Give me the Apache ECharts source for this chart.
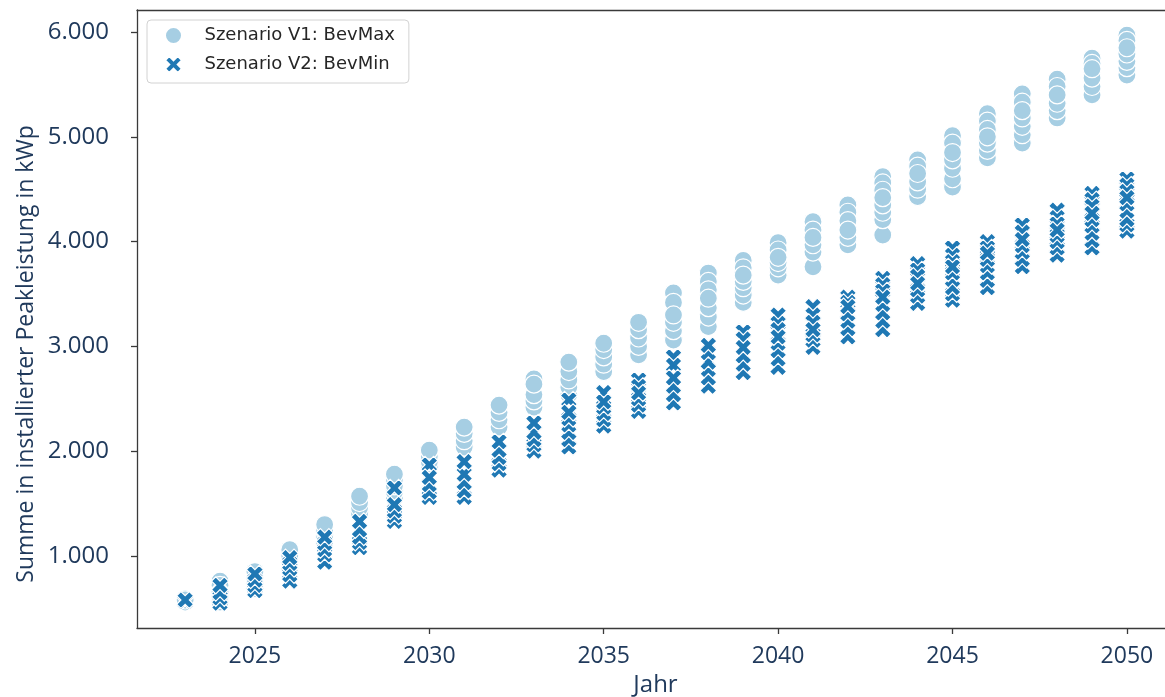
<!DOCTYPE html>
<html>
<head>
<meta charset="utf-8">
<script src="https://cdn.jsdelivr.net/npm/echarts@6/dist/echarts.min.js"></script>
<style>
  html, body { margin: 0; padding: 0; background: #ffffff; }
  #chart { width: 1165px; height: 697px; }
</style>
</head>
<body>
<div id="chart"></div>
<script>
// Installed peak power per simulated year, one small list of runs per year
const years = [2023, 2024, 2025, 2026, 2027, 2028, 2029, 2030, 2031, 2032, 2033, 2034, 2035, 2036,
               2037, 2038, 2039, 2040, 2041, 2042, 2043, 2044, 2045, 2046, 2047, 2048, 2049, 2050];

// Scenario V1 (BevMax), kWp
const bevMax = [
  [560, 590, 580],
  [760, 560, 610, 660, 720],
  [690, 740, 790, 850],
  [880, 940, 1000, 1060],
  [1120, 1180, 1240, 1300],
  [1400, 1460, 1510, 1570],
  [1550, 1610, 1670, 1730, 1780],
  [1850, 1900, 1950, 2010],
  [2040, 2100, 2170, 2230],
  [2230, 2300, 2370, 2440],
  [2690, 2420, 2480, 2540, 2640],
  [2540, 2610, 2680, 2760, 2850],
  [2760, 2830, 2900, 2970, 3030],
  [2920, 3000, 3080, 3160, 3230],
  [3510, 3420, 3060, 3150, 3230, 3300],
  [3700, 3620, 3540, 3190, 3280, 3370, 3460],
  [3820, 3750, 3420, 3490, 3560, 3620, 3680],
  [3990, 3920, 3680, 3750, 3800, 3850],
  [4190, 4110, 3760, 3900, 3970, 4040],
  [4350, 4280, 4200, 3970, 4040, 4110],
  [4620, 4560, 4490, 4063, 4210, 4280, 4350, 4420],
  [4780, 4720, 4430, 4500, 4570, 4650],
  [5010, 4940, 4520, 4600, 4700, 4780, 4850],
  [5220, 5150, 5070, 4800, 4870, 4940, 5000],
  [5410, 5330, 4940, 5020, 5100, 5180, 5250],
  [5550, 5480, 5180, 5250, 5320, 5400],
  [5750, 5700, 5400, 5480, 5560, 5650],
  [5970, 5920, 5590, 5660, 5720, 5790, 5850]
];

// Scenario V2 (BevMin), kWp
const bevMin = [
  [565, 580],
  [550, 600, 650, 720],
  [670, 720, 770, 830],
  [760, 820, 880, 930, 985],
  [940, 1010, 1060, 1120, 1180],
  [1080, 1130, 1180, 1250, 1330],
  [1650, 1330, 1380, 1430, 1490],
  [1870, 1560, 1610, 1680, 1750],
  [1560, 1620, 1700, 1780, 1900],
  [1820, 1880, 1940, 2010, 2090],
  [2000, 2060, 2110, 2180, 2270],
  [2490, 2040, 2110, 2180, 2250, 2310, 2370],
  [2560, 2240, 2300, 2360, 2420, 2470],
  [2680, 2620, 2380, 2440, 2500, 2555],
  [2900, 2820, 2460, 2540, 2620, 2700],
  [2620, 2700, 2780, 2850, 2940, 3010],
  [3140, 3070, 2750, 2830, 2910, 2990],
  [3300, 3220, 3160, 2800, 2880, 2960, 3030, 3090],
  [3380, 3300, 3230, 2990, 3060, 3110, 3160],
  [3470, 3420, 3090, 3170, 3240, 3310, 3380],
  [3650, 3590, 3530, 3160, 3240, 3320, 3400, 3470],
  [3790, 3730, 3670, 3410, 3480, 3540, 3600],
  [3940, 3870, 3810, 3440, 3500, 3560, 3640, 3700, 3760],
  [4000, 3940, 3560, 3630, 3700, 3770, 3830, 3890],
  [4160, 4090, 3760, 3830, 3900, 3960, 4020],
  [4300, 4230, 4170, 3870, 3940, 4000, 4060, 4110],
  [4460, 4400, 4340, 3940, 4010, 4080, 4150, 4210, 4270],
  [4600, 4540, 4480, 4100, 4160, 4210, 4290, 4360, 4420]
];

const xTicks = [2025, 2030, 2035, 2040, 2045, 2050];
const yTicks = [1000, 2000, 3000, 4000, 5000, 6000];

const seriesNames = ['Szenario V1: BevMax', 'Szenario V2: BevMin'];

// filled "X" marker (plus sign rotated by 45 degrees)
const xMarker = 'path://M3,0L4,1L3,2L4,3L3,4L2,3L1,4L0,3L1,2L0,1L1,0L2,1Z';

function toPairs(lists) {
  const out = [];
  lists.forEach((vals, i) => vals.forEach(v => out.push([years[i], v])));
  return out;
}

function deThousands(v) {
  return String(v).replace(/\B(?=(\d{3})+(?!\d))/g, '.');
}

const navy = '#203a5c';
const spine = '#3a3a3a';
const xMin = 2021.62, xMax = 2051.35;

const chart = echarts.init(document.getElementById('chart'), null, { renderer: 'canvas' });

chart.setOption({
  animation: false,
  backgroundColor: '#ffffff',
  // plot area runs past the right edge of the canvas
  grid: {
    left: 137, top: 10, width: 1037, height: 618,
    outerBoundsMode: 'none',
    containLabel: false,
    show: false
  },
  legend: {
    orient: 'vertical',
    left: 147, top: 20,
    padding: [6, 14, 9, 17],
    itemWidth: 52, itemHeight: 17, itemGap: 10,
    backgroundColor: 'rgba(255,255,255,0.85)',
    borderColor: '#d2d2d2', borderWidth: 1, borderRadius: 4,
    textStyle: { fontFamily: 'DejaVu Sans', fontSize: 18, lineHeight: 18, color: '#262626' },
    data: [
      { name: seriesNames[0], icon: 'circle' },
      { name: seriesNames[1], icon: xMarker }
    ]
  },
  xAxis: [
    {
      type: 'value',
      position: 'bottom',
      min: xMin, max: xMax,
      name: 'Jahr',
      nameLocation: 'middle',
      nameGap: 43,
      nameTextStyle: { fontFamily: 'Open Sans', fontSize: 24, color: navy },
      splitLine: { show: false },
      axisLine: { show: true, lineStyle: { color: spine, width: 1.3 } },
      axisTick: { show: true, length: 6, customValues: xTicks, lineStyle: { color: spine, width: 1.3 } },
      axisLabel: {
        customValues: xTicks,
        margin: 17,
        fontFamily: 'Open Sans', fontSize: 23, color: navy,
        formatter: v => String(v)
      }
    },
    {
      // top frame line
      type: 'value',
      position: 'top',
      min: xMin, max: xMax,
      splitLine: { show: false },
      axisLine: { show: true, lineStyle: { color: spine, width: 1.3 } },
      axisTick: { show: false },
      axisLabel: { show: false }
    }
  ],
  yAxis: {
    type: 'value',
    min: 313, max: 6210,
    splitLine: { show: false },
    axisLine: { show: true, lineStyle: { color: spine, width: 1.3 } },
    axisTick: { show: true, length: 6, customValues: yTicks, lineStyle: { color: spine, width: 1.3 } },
    axisLabel: {
      customValues: yTicks,
      margin: 28,
      fontFamily: 'Open Sans', fontSize: 24, color: navy,
      formatter: v => deThousands(v)
    }
  },
  graphic: [{
    type: 'text',
    x: 26, y: 354,
    rotation: Math.PI / 2,
    style: {
      text: 'Summe in installierter Peakleistung in kWp',
      font: '23px "Open Sans"',
      fill: navy,
      align: 'center',
      verticalAlign: 'middle'
    }
  }],
  series: [
    {
      name: seriesNames[0],
      type: 'scatter',
      xAxisIndex: 0,
      symbol: 'circle',
      symbolSize: 18,
      data: toPairs(bevMax),
      itemStyle: { color: '#a6cee3', borderColor: '#ffffff', borderWidth: 1.2, opacity: 1 },
      emphasis: { disabled: true },
      z: 2
    },
    {
      name: seriesNames[1],
      type: 'scatter',
      xAxisIndex: 0,
      symbol: xMarker,
      symbolSize: 17,
      data: toPairs(bevMin),
      itemStyle: { color: '#1f78b4', borderColor: '#ffffff', borderWidth: 1.2, opacity: 1 },
      emphasis: { disabled: true },
      z: 3
    }
  ]
});
</script>
</body>
</html>
